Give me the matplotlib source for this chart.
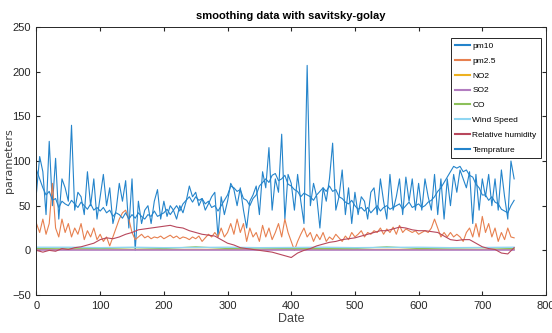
import matplotlib
matplotlib.use("Agg")
import matplotlib.pyplot as plt
import numpy as np

plt.rcParams["font.family"] = ["Liberation Sans", "DejaVu Sans"]

# pm10, every 5 days
pm10 = [65, 105, 88, 40, 122, 50, 103, 35, 80, 70,
        55, 140, 45, 65, 60, 40, 88, 50, 80, 35,
        60, 85, 50, 70, 30, 45, 75, 55, 78, 25,
        80, 0, 55, 30, 45, 50, 30, 55, 68, 35,
        55, 38, 50, 45, 35, 50, 42, 55, 72, 60,
        65, 50, 58, 45, 52, 60, 65, 15, 60, 40,
        55, 75, 68, 50, 70, 45, 25, 55, 62, 72,
        40, 88, 70, 115, 45, 80, 65, 130, 35, 85,
        75, 45, 85, 55, 30, 207, 50, 75, 60, 25,
        70, 55, 80, 120, 45, 60, 90, 40, 70, 30,
        65, 40, 60, 55, 35, 65, 70, 40, 80, 55,
        35, 85, 45, 60, 80, 40, 82, 55, 80, 45,
        75, 45, 80, 60, 45, 85, 40, 80, 35, 80,
        50, 85, 65, 90, 80, 70, 88, 30, 85, 45,
        80, 60, 85, 50, 80, 45, 90, 60, 35, 100,
        80]

# pm2.5, every 5 days
pm25 = [30, 20, 35, 18, 30, 75, 25, 15, 35, 20,
        30, 15, 25, 18, 30, 12, 22, 15, 25, 12,
        18, 10, 15, 5, 15, 25, 35, 42, 45, 35,
        20, 12, 15, 18, 14, 16, 13, 15, 14, 16,
        13, 15, 17, 14, 16, 13, 15, 14, 12, 15,
        13, 16, 10, 14, 18, 15, 20, 15, 25, 15,
        20, 30, 18, 35, 20, 30, 10, 25, 15, 20,
        10, 28, 15, 25, 12, 20, 30, 15, 35, 20,
        10, 0, 10, 18, 25, 15, 20, 10, 18, 12,
        20, 10, 15, 12, 18, 14, 10, 16, 12, 20,
        15, 18, 22, 15, 20, 18, 22, 20, 25, 18,
        24, 20, 26, 18, 28, 20, 24, 22, 20, 22,
        18, 20, 22, 20, 25, 35, 25, 15, 20, 15,
        20, 15, 18, 15, 10, 20, 25, 15, 30, 15,
        38, 20, 30, 15, 25, 10, 20, 12, 25, 15,
        14]

# temperature, every 5 days
temp = [90, 80, 70, 62, 66, 56, 58, 48, 55, 52,
        50, 56, 52, 48, 54, 50, 46, 52, 45, 48,
        44, 48, 42, 45, 38, 42, 40, 36, 42, 35,
        40, 36, 42, 38, 35, 40, 38, 44, 38, 40,
        42, 46, 40, 45, 50, 44, 52, 56, 60, 54,
        60, 56, 58, 52, 55, 48, 50, 44, 50, 56,
        62, 72, 70, 66, 68, 58, 56, 50, 58, 62,
        72, 76, 80, 76, 84, 86, 78, 80, 84, 74,
        72, 68, 66, 60, 64, 62, 60, 56, 62, 66,
        70, 66, 72, 66, 68, 60, 58, 54, 52, 56,
        50, 46, 48, 44, 48, 42, 46, 50, 44, 48,
        50, 46, 48, 50, 52, 46, 50, 54, 48, 50,
        52, 48, 50, 54, 56, 60, 66, 70, 76, 82,
        88, 94, 92, 94, 88, 90, 84, 82, 74, 70,
        62, 62, 56, 60, 54, 52, 46, 44, 42, 50,
        56]

# relative humidity, every 10 days
rh = [0, -2, 0, -1, 2, 1, 3, 4, 6, 8,
      12, 14, 13, 15, 18, 20, 23, 24, 25, 26,
      27, 28, 26, 25, 22, 20, 18, 17, 16, 12,
      8, 6, 3, 2, 1, 0, -1, -2, -4, -6,
      -8, -3, 0, 2, 5, 7, 9, 10, 12, 13,
      14, 16, 18, 20, 22, 22, 24, 26, 25, 23,
      22, 22, 21, 20, 16, 12, 11, 12, 12, 8,
      4, 2, 1, -3, -4, 3]

# small gases / wind, every 50 days
no2 = [1, 1, 1.5, 1, 1, 1.2, 1, 1, 1.3, 1, 1, 1.2, 1, 1, 1.1, 1]
so2 = [0.2, 0.2, 0.2, 0.2, 0.2, 0.2, 0.2, 0.2, 0.2, 0.2, 0.2, 0.2, 0.2, 0.2, 0.2, 0.2]
co = [2, 2.5, 2, 3, 2, 4, 2, 2.5, 2, 2, 2, 4, 2, 2.5, 3, 2]
wind = [3.5, 3.5, 3, 3.5, 3, 3.2, 3.5, 3, 3.2, 3.5, 3, 3.3, 3.5, 3, 3.2, 3.5]

x5 = np.arange(len(pm10)) * 5
x10 = np.arange(len(rh)) * 10
x50 = np.arange(len(co)) * 50

fig = plt.figure(figsize=(5.52, 3.33), dpi=100)
ax = fig.add_axes([0.0661, 0.114, 0.923, 0.805])

lw = 0.8
blue = "#2484cb"
ax.plot(x5, pm10, color=blue, lw=lw, label="pm10")
ax.plot(x5, pm25, color="#e7804f", lw=lw, label="pm2.5")
ax.plot(x50, no2, color="#EDB120", lw=lw, label="NO2")
ax.plot(x50, so2, color="#b27cc0", lw=1.2, label="SO2")
ax.plot(x50, co, color="#8cc05a", lw=lw, label="CO")
ax.plot(x50, wind, color="#8fd6f2", lw=1.0, label="Wind Speed")
ax.plot(x10, rh, color="#b8475c", lw=lw, label="Relative humidity")
ax.plot(x5, temp, color=blue, lw=lw, label="Temprature")

ax.set_xlim(0, 800)
ax.set_ylim(-50, 250)
ax.set_xticks(range(0, 801, 100))
ax.set_yticks(range(-50, 251, 50))
ax.tick_params(direction="in", top=True, right=True, labelsize=8, length=3,
               colors="#262626", pad=4)
for s in ax.spines.values():
    s.set_color("#262626")
    s.set_linewidth(0.7)

ax.set_title("smoothing data with savitsky-golay", fontsize=8, fontweight="bold", pad=6)
ax.set_xlabel("Date", fontsize=9, labelpad=2, color="#404040")
ax.set_ylabel("parameters", fontsize=8, color="#404040", family="DejaVu Sans")
ax.yaxis.set_label_coords(-0.045, 0.5)

leg = ax.legend(loc="upper right", bbox_to_anchor=(0.99, 0.96), fontsize=6,
                fancybox=False, framealpha=1, edgecolor="#262626",
                handlelength=1.8, handletextpad=0.3, labelspacing=0.85,
                borderpad=0.5, borderaxespad=0)
leg.get_frame().set_linewidth(0.7)
for h in leg.get_lines():
    h.set_linewidth(1.5)

fig.savefig("out.png", dpi=100)
